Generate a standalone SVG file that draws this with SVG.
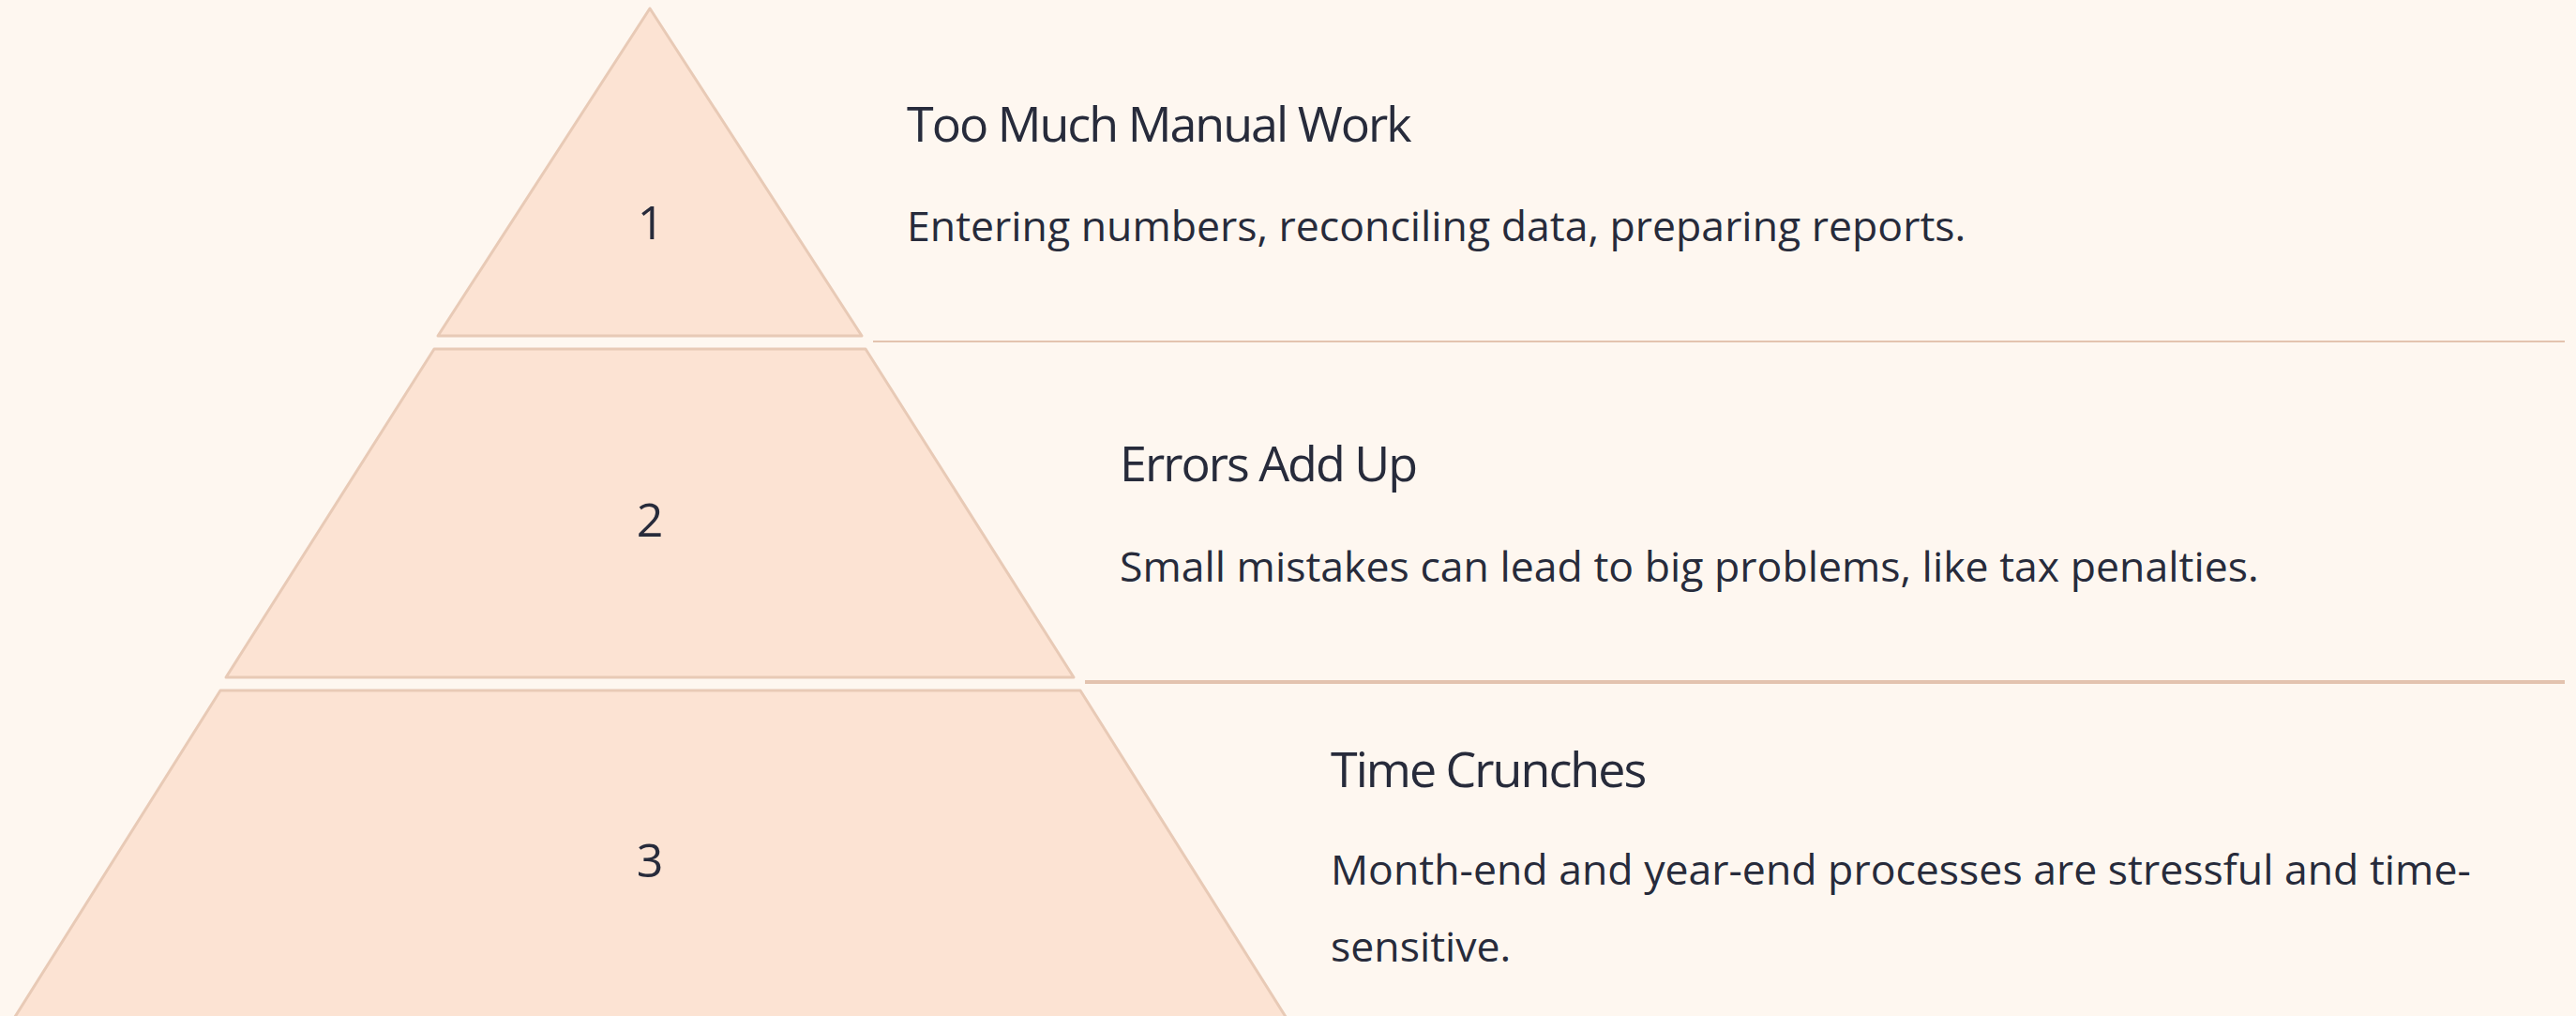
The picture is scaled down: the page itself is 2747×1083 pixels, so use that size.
<svg xmlns="http://www.w3.org/2000/svg" width="2747" height="1083" viewBox="0 0 2747 1083">
<style>
.tier{fill:#fce3d3;stroke:#e8cab6;stroke-width:3;stroke-linejoin:round}
.num{font-family:"Open Sans","Noto Sans",sans-serif;font-size:50px;fill:#272b3b;text-anchor:middle}
.title{font-family:"Open Sans","Noto Sans",sans-serif;font-size:52px;letter-spacing:-2px;fill:#272b3b}
.body{font-family:"Open Sans","Noto Sans",sans-serif;font-size:44.6px;fill:#272b3b}
.sep{stroke:#e3c3af;fill:none}
</style>
<rect width="2747" height="1083" fill="#fef7f0"/>
<g id="connectors">
<line class="sep" x1="931" y1="364" x2="2735" y2="364" stroke-width="2"/>
<line class="sep" x1="1157" y1="727" x2="2735" y2="727" stroke-width="4"/>
</g>
<g id="tier1">
<polygon class="tier" points="693,9 919,358 467,358"/>
<text class="num" x="694" y="255">1</text>
<text class="title" x="967" y="151">Too Much Manual Work</text>
<text class="body" x="967" y="257">Entering numbers, reconciling data, preparing reports.</text>
</g>
<g id="tier2">
<polygon class="tier" points="463,372 923,372 1145,722 241,722"/>
<text class="num" x="693" y="572">2</text>
<text class="title" x="1194" y="513">Errors Add Up</text>
<text class="body" x="1194" y="620">Small mistakes can lead to big problems, like tax penalties.</text>
</g>
<g id="tier3">
<polygon class="tier" points="235,736 1152,736 1373,1087 14,1087"/>
<text class="num" x="693" y="935">3</text>
<text class="title" x="1419" y="839">Time Crunches</text>
<text class="body" x="1419" y="943">Month-end and year-end processes are stressful and time-</text>
<text class="body" x="1419" y="1025">sensitive.</text>
</g>
</svg>
